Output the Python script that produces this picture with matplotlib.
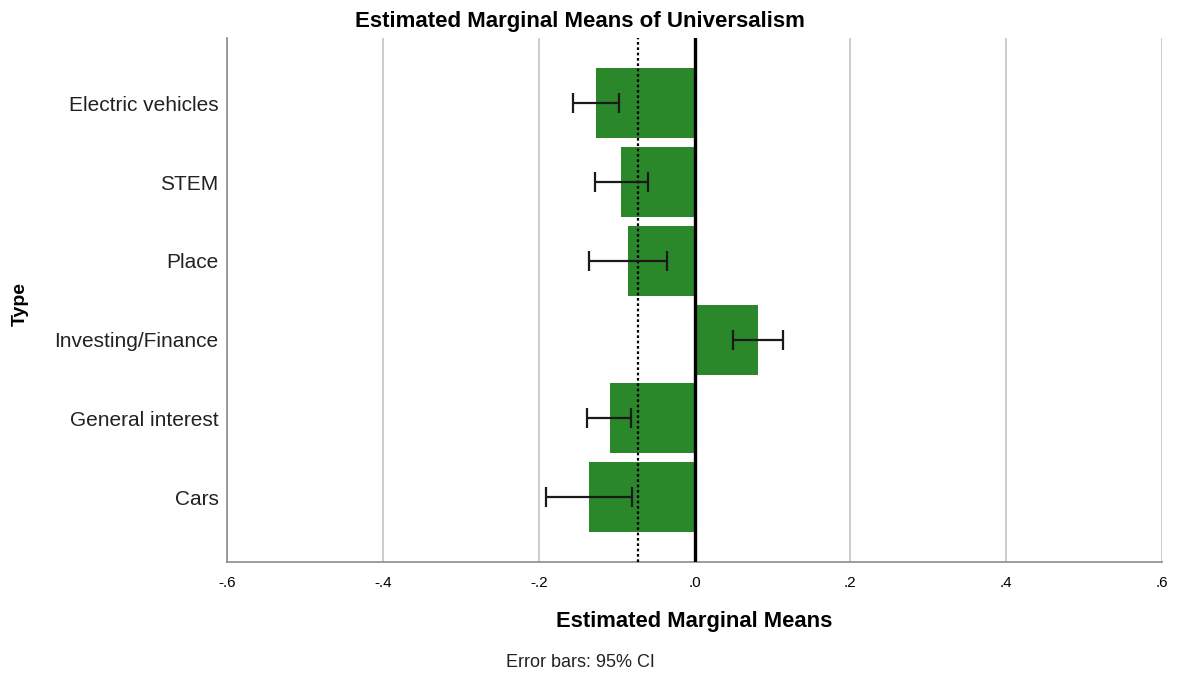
import numpy as np
import matplotlib
matplotlib.use("Agg")
import matplotlib.pyplot as plt

# veriler
kategoriler = ['Electric vehicles', 'STEM', 'Place', 'Investing/Finance',
               'General interest', 'Cars']
ortalamalar = [-0.126, -0.094, -0.085, 0.081, -0.109, -0.135]
ci_alt = [-0.156, -0.128, -0.135, 0.049, -0.138, -0.191]
ci_ust = [-0.097, -0.060, -0.035, 0.113, -0.081, -0.080]
genel_ortalama = -0.073
x_tikler = [-0.6, -0.4, -0.2, 0.0, 0.2, 0.4, 0.6]
x_etiketler = ['-.6', '-.4', '-.2', '.0', '.2', '.4', '.6']

plt.rcParams['font.family'] = ['Liberation Sans', 'DejaVu Sans']

fig = plt.figure(figsize=(11.91, 6.79), dpi=100)
ax = fig.add_axes([0.1906, 0.1716, 0.7851, 0.7724])

y = np.arange(len(kategoriler))[::-1]
ort = np.array(ortalamalar)
hata = [ort - np.array(ci_alt), np.array(ci_ust) - ort]

ax.barh(y, ort, height=0.89, color='#2a872a', zorder=2)
ax.errorbar(ort, y, xerr=hata, fmt='none', ecolor='#1a1a1a', elinewidth=1.6,
            capsize=7, capthick=1.6, zorder=4)
ax.axvline(0, color='black', lw=2.4, zorder=3)
ax.axvline(genel_ortalama, color='black', lw=1.6, ls=(0, (1.2, 1.2)), zorder=3)

ax.set_xlim(-0.6, 0.6)
ax.set_ylim(-0.83, 5.83)
ax.set_xticks(x_tikler)
ax.set_xticklabels(x_etiketler, fontsize=11)
ax.set_yticks(y)
ax.set_yticklabels(kategoriler, fontsize=15, color='#222222')
ax.tick_params(axis='both', length=0)
ax.tick_params(axis='x', pad=10)
ax.tick_params(axis='y', pad=6)

ax.grid(True, axis='x', color='#c8c8c8', lw=1.3, zorder=0)
for s in ['top', 'right']:
    ax.spines[s].set_visible(False)
for s in ['left', 'bottom']:
    ax.spines[s].set_color('#8c8c8c')
    ax.spines[s].set_linewidth(1.2)

# metinler (SPSS düzenine göre sabit konumlar)
fig.text(0.487, 0.968, 'Estimated Marginal Means of Universalism', fontsize=16,
         fontweight='bold', ha='center', va='center')
fig.text(0.5829, 0.084, 'Estimated Marginal Means', fontsize=15.8,
         fontweight='bold', ha='center', va='center')
fig.text(0.0168, 0.5516, 'Type', fontsize=14, fontweight='bold', rotation=90,
         ha='center', va='center')
fig.text(0.487, 0.0236, 'Error bars: 95% CI', fontsize=13, ha='center',
         va='center', color='#222222')

fig.savefig('out.png', dpi=100)
